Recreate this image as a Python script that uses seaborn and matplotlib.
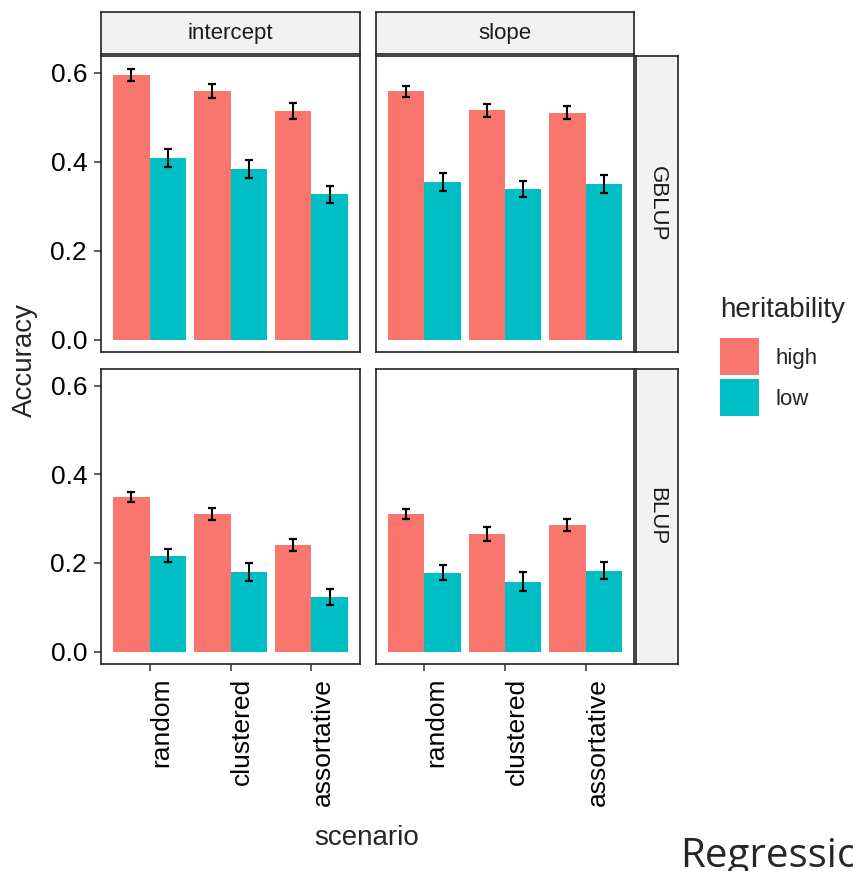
import seaborn as sns
import matplotlib.pyplot as plt
import matplotlib.transforms as mtransforms
import pandas as pd

sns.set_style("white")
plt.rcParams['font.family'] = ['Liberation Sans', 'DejaVu Sans']

scenarios = ["random", "clustered", "assortative"]
heritability = ["high", "low"]
models = ["intercept", "slope"]
methods = ["GBLUP", "BLUP"]

# mean accuracy and error half-width
gblup_intercept_high = [0.595, 0.559, 0.514]
gblup_intercept_high_se = [0.013, 0.015, 0.018]
gblup_intercept_low = [0.408, 0.384, 0.327]
gblup_intercept_low_se = [0.021, 0.020, 0.019]
gblup_slope_high = [0.558, 0.515, 0.510]
gblup_slope_high_se = [0.013, 0.014, 0.015]
gblup_slope_low = [0.354, 0.339, 0.349]
gblup_slope_low_se = [0.021, 0.018, 0.020]
blup_intercept_high = [0.349, 0.310, 0.240]
blup_intercept_high_se = [0.012, 0.013, 0.014]
blup_intercept_low = [0.216, 0.180, 0.123]
blup_intercept_low_se = [0.015, 0.020, 0.019]
blup_slope_high = [0.310, 0.265, 0.285]
blup_slope_high_se = [0.012, 0.015, 0.014]
blup_slope_low = [0.178, 0.158, 0.182]
blup_slope_low_se = [0.017, 0.021, 0.019]

series = {
    ("GBLUP", "intercept", "high"): (gblup_intercept_high, gblup_intercept_high_se),
    ("GBLUP", "intercept", "low"): (gblup_intercept_low, gblup_intercept_low_se),
    ("GBLUP", "slope", "high"): (gblup_slope_high, gblup_slope_high_se),
    ("GBLUP", "slope", "low"): (gblup_slope_low, gblup_slope_low_se),
    ("BLUP", "intercept", "high"): (blup_intercept_high, blup_intercept_high_se),
    ("BLUP", "intercept", "low"): (blup_intercept_low, blup_intercept_low_se),
    ("BLUP", "slope", "high"): (blup_slope_high, blup_slope_high_se),
    ("BLUP", "slope", "low"): (blup_slope_low, blup_slope_low_se),
}
rows = []
for (meth, mod, her), (vals, ses) in series.items():
    for sc, v, s in zip(scenarios, vals, ses):
        rows.append(dict(method=meth, model=mod, heritability=her,
                         scenario=sc, accuracy=v, se=s))
df = pd.DataFrame(rows)

palette = {"high": "#F8766D", "low": "#00BFC4"}
W, H = 854, 871
fig = plt.figure(figsize=(W / 100, H / 100), dpi=100)


def px(x0, y0, x1, y1):
    return [x0 / W, 1 - y1 / H, (x1 - x0) / W, (y1 - y0) / H]


col_x = [(101, 360), (376, 634)]
row_y = [(56, 352), (369, 664)]
border = "#222222"
handles = labels = None
# ggplot-like nudge of the rotated tick labels
shift = mtransforms.ScaledTranslation(8.5 / 72, 0, fig.dpi_scale_trans)

for r, meth in enumerate(methods):
    for c, mod in enumerate(models):
        ax = fig.add_axes(px(col_x[c][0], row_y[r][0], col_x[c][1], row_y[r][1]))
        sub = df[(df.method == meth) & (df.model == mod)]
        first = (r == 0 and c == 0)
        sns.barplot(data=sub, x="scenario", y="accuracy", hue="heritability",
                    order=scenarios, hue_order=heritability, palette=palette,
                    width=0.9, errorbar=None, saturation=1, linewidth=0,
                    legend=first, ax=ax)
        if first:
            leg = ax.get_legend()
            handles = leg.legend_handles
            labels = [t.get_text() for t in leg.texts]
            leg.remove()
        for her, cont in zip(heritability, ax.containers):
            hs = sub[sub.heritability == her].set_index("scenario").loc[scenarios]
            xs = [b.get_x() + b.get_width() / 2 for b in cont]
            ys = [b.get_height() for b in cont]
            ax.errorbar(xs, ys, yerr=hs["se"].values, fmt="none", ecolor="black",
                        elinewidth=1.5, capsize=3.1, capthick=1.6)
        ax.set_xlim(-0.6, 2.6)
        ax.set_ylim(-0.028, 0.6375)
        ax.set_yticks([0.0, 0.2, 0.4, 0.6])
        ax.set_xlabel("")
        ax.set_ylabel("")
        for s in ax.spines.values():
            s.set_color(border)
            s.set_linewidth(1.2)
        ax.tick_params(axis="both", length=5, width=1.1, color="#333333",
                       labelsize=19, labelcolor="black", pad=5)
        if c == 0:
            ax.set_yticklabels(["0.0", "0.2", "0.4", "0.6"])
            ax.tick_params(axis="y", left=True)
        else:
            ax.tick_params(axis="y", left=False, labelleft=False)
        if r == 1:
            ax.tick_params(axis="x", bottom=True)
            ax.set_xticks(range(len(scenarios)))
            ax.set_xticklabels(scenarios, rotation=90, va="top", ha="center")
            for lab in ax.get_xticklabels():
                lab.set_transform(lab.get_transform() + shift)
        else:
            ax.tick_params(axis="x", bottom=False, labelbottom=False)

# strips
for c, mod in enumerate(models):
    sax = fig.add_axes(px(col_x[c][0], 12, col_x[c][1], 54))
    sax.set_facecolor("#F2F2F2")
    sax.set_xticks([])
    sax.set_yticks([])
    for s in sax.spines.values():
        s.set_color(border)
        s.set_linewidth(1.2)
    sax.text(0.5, 0.5, mod, ha="center", va="center", fontsize=16,
             color="#1A1A1A", transform=sax.transAxes)
for r, meth in enumerate(methods):
    sax = fig.add_axes(px(636, row_y[r][0], 678, row_y[r][1]))
    sax.set_facecolor("#F2F2F2")
    sax.set_xticks([])
    sax.set_yticks([])
    for s in sax.spines.values():
        s.set_color(border)
        s.set_linewidth(1.2)
    sax.text(0.5, 0.5, meth, ha="center", va="center", fontsize=16,
             rotation=-90, color="#1A1A1A", transform=sax.transAxes)

fig.text(25 / W, 1 - 360 / H, "Accuracy", rotation=90, ha="center",
         va="center", fontsize=20)
fig.text(367 / W, 1 - 838 / H, "scenario", ha="center", va="center",
         fontsize=20)

leg = fig.legend(handles, labels, title="heritability", loc="upper left",
                 bbox_to_anchor=(720 / W, 1 - 297 / H), frameon=False,
                 fontsize=16, title_fontsize=20, alignment="left",
                 handlelength=1.77, handleheight=2.19, labelspacing=0.18,
                 handletextpad=0.73, borderpad=0, borderaxespad=0)
leg._legend_box.sep = 11

fig.text(680 / W, 1 - 866.5 / H, "Regression", fontsize=29,
         family=["Open Sans", "DejaVu Sans"], va="baseline", ha="left")

fig.savefig("out.png", dpi=100)
